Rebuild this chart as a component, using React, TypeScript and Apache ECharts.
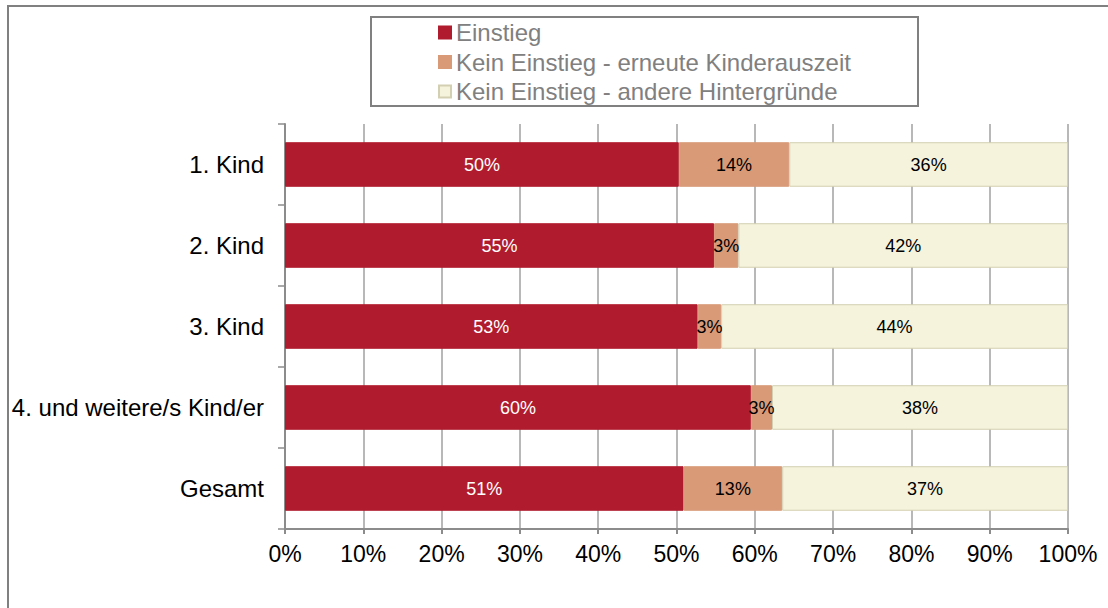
import React, { useEffect, useRef } from "react";
import * as echarts from "echarts";

const categories = ["1. Kind", "2. Kind", "3. Kind", "4. und weitere/s Kind/er", "Gesamt"];
const seriesNames = [
  "Einstieg",
  "Kein Einstieg - erneute Kinderauszeit",
  "Kein Einstieg - andere Hintergründe",
];
const einstieg = [50.3, 54.8, 52.7, 59.5, 50.9];
const kinderauszeit = [14.1, 3.1, 3.0, 2.7, 12.6];
const andere = [35.6, 42.1, 44.3, 37.8, 36.5];
const colors = ["#B01C2E", "#D99A78", "#F5F3DC"];
const borderColors = ["#B01C2E", "#D99A78", "#D3CFB2"];
const labelColors = ["#ffffff", "#000000", "#000000"];
const FONT = "'Liberation Sans', Arial, Helvetica, sans-serif";

export default function App() {
  const ref = useRef<HTMLDivElement>(null);
  useEffect(() => {
    if (!ref.current) return;
    const chart = echarts.init(ref.current, null, { renderer: "svg" });
    const datasets = [einstieg, kinderauszeit, andere];
    chart.setOption({
      animation: false,
      backgroundColor: "#ffffff",
      textStyle: { fontFamily: FONT },
      graphic: [
        {
          type: "rect",
          z: 0,
          shape: { x: 8, y: 6, width: 1200, height: 700 },
          style: { fill: "none", stroke: "#808080", lineWidth: 2 },
        },
        {
          type: "rect",
          z: 0,
          shape: { x: 371, y: 17, width: 547, height: 89 },
          style: { fill: "#ffffff", stroke: "#808080", lineWidth: 2 },
        },
      ],
      legend: {
        orient: "vertical",
        left: 438,
        top: 20.5,
        padding: 0,
        itemWidth: 12,
        itemHeight: 12,
        itemGap: 5.5,
        icon: "rect",
        z: 10,
        textStyle: { fontFamily: FONT, fontSize: 24, lineHeight: 24, color: "#808080" },
        data: seriesNames,
      },
      grid: { left: 285, right: 40, top: 124, bottom: 79, containLabel: false },
      xAxis: {
        type: "value",
        min: 0,
        max: 100,
        interval: 10,
        axisLine: { show: true, lineStyle: { color: "#8c8c8c", width: 2 } },
        axisTick: { show: true, length: 5, lineStyle: { color: "#8c8c8c", width: 2 } },
        splitLine: { show: true, lineStyle: { color: "#a0a0a0", width: 1.5 } },
        axisLabel: {
          formatter: "{value}%",
          fontFamily: FONT,
          fontSize: 23,
          color: "#000000",
          margin: 13,
        },
      },
      yAxis: {
        type: "category",
        inverse: true,
        data: categories,
        axisLine: { show: true, lineStyle: { color: "#8c8c8c", width: 2 } },
        axisTick: { show: true, length: 7, lineStyle: { color: "#8c8c8c", width: 1.5 } },
        axisLabel: { fontFamily: FONT, fontSize: 24, color: "#000000", margin: 21 },
      },
      series: datasets.map((d, i) => ({
        name: seriesNames[i],
        type: "bar",
        stack: "total",
        barWidth: "55%",
        data: d,
        itemStyle: { color: colors[i], borderColor: borderColors[i], borderWidth: 1 },
        label: {
          show: true,
          position: "inside",
          formatter: (p: any) => `${Math.round(p.value)}%`,
          fontFamily: FONT,
          fontSize: 18,
          color: labelColors[i],
        },
      })),
    });
    return () => chart.dispose();
  }, []);
  return (
    <div
      ref={ref}
      style={{ position: "absolute", left: 0, top: 0, width: 1108, height: 608 }}
    />
  );
}
